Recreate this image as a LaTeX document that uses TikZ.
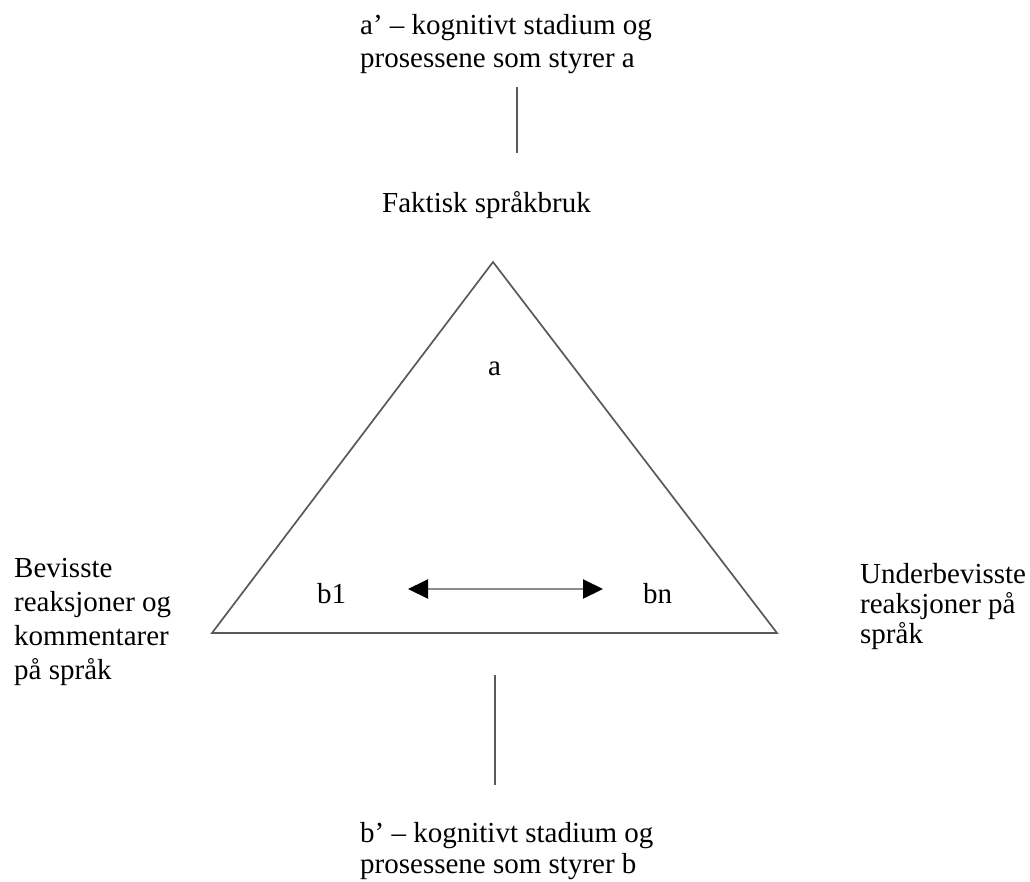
\documentclass[tikz,border=0pt]{standalone}
\usepackage{fontspec}
\setmainfont{Liberation Serif}
\usetikzlibrary{arrows.meta}
\begin{document}
\begin{tikzpicture}[x=1pt,y=-1pt,
  lbl/.style={font=\fontsize{29}{33}\selectfont, inner sep=0pt, align=left, anchor=base west, text=black},
  ln/.style={draw=black!65, line width=1.9pt},
  >={Triangle[length=20pt,width=19pt,color=black]}]
\useasboundingbox (0,0) rectangle (1030,881);
% triangle
\coordinate (A) at (493,262);
\coordinate (L) at (212,633);
\coordinate (R) at (777,633);
\draw[ln, line width=1.7pt, line join=miter] (A) -- (R) -- (L) -- cycle;
% texts (base anchor = baseline of last line)
\node[lbl] (atop) at (360,67) {a’ – kognitivt stadium og\\prosessene som styrer a};
\node[lbl] (fak) at (382,212) {Faktisk språkbruk};
\node[lbl] (a) at (488,375) {a};
\node[lbl] (b1) at (317,603) {b1};
\node[lbl] (bn) at (643,603) {bn};
\node[lbl, font=\fontsize{29}{34}\selectfont] (lef) at (14,679) {Bevisste\\reaksjoner og\\kommentarer\\på språk};
\node[lbl, font=\fontsize{29}{30}\selectfont] (rig) at (860,643) {Underbevisste\\reaksjoner på\\språk};
\node[lbl, font=\fontsize{29}{31}\selectfont] (bbot) at (360,873) {b’ – kognitivt stadium og\\prosessene som styrer b};
% lines
\coordinate (t1) at (517,87);
\coordinate (t2) at (517,153);
\draw[ln] (t1) -- (t2);
\coordinate (u1) at (495,675);
\coordinate (u2) at (495,785);
\draw[ln] (u1) -- (u2);
% arrow
\coordinate (p1) at (408,589);
\coordinate (p2) at (603,589);
\draw[draw=black!45, line width=2pt, <->] (p1) -- (p2);
\end{tikzpicture}
\end{document}
